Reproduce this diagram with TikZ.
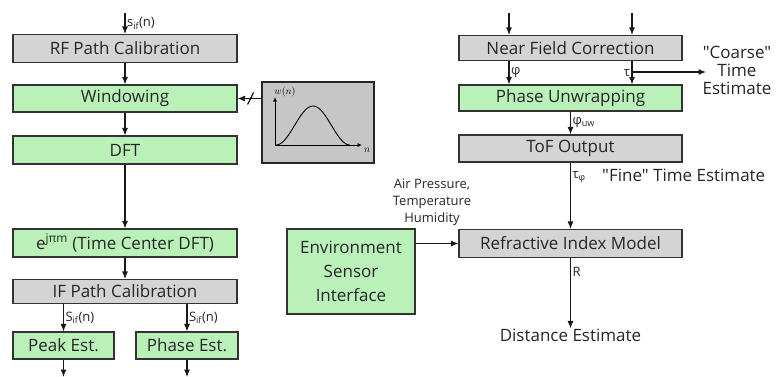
\documentclass[tikz,border=0pt]{standalone}
\usepackage{fontspec}
\setmainfont{Open Sans}[Ligatures=TeXOff]
\usetikzlibrary{arrows.meta,calc}
\definecolor{boxgreen}{HTML}{B9F1B9}
\definecolor{boxgray}{HTML}{D4D4D4}
\definecolor{wingray}{HTML}{C6C6C6}
\begin{document}
\begin{tikzpicture}[x=1pt,y=-1pt,
  box/.style={draw=black!80,line width=1.1pt,minimum width=224pt,minimum height=27pt,inner sep=0pt,
    font=\fontsize{17}{20}\selectfont,text=black!85},
  gbox/.style={box,fill=boxgray},
  grbox/.style={box,fill=boxgreen},
  arr/.style={-{Latex[length=7.5pt,width=6pt]},line width=1.1pt,draw=black!90},
  lbl/.style={font=\fontsize{13}{15}\selectfont,text=black!85,inner sep=1.5pt},
  big/.style={font=\fontsize{17}{19}\selectfont,text=black!85,inner sep=0pt}]
\useasboundingbox (0,0) rectangle (779,376);
% ---------- left column ----------
\node[gbox,minimum height=28pt] (rf) at (125,48.5) {RF Path Calibration};
\node[grbox] (win) at (125,98.5) {Windowing};
\node[grbox,minimum height=28pt] (dft) at (125,150) {DFT};
\node[grbox,minimum height=28pt] (ejm) at (125,243) {e\textsuperscript{jπm} (Time Center DFT)};
\node[gbox,minimum height=24pt] (ifp) at (125,291.5) {IF Path Calibration};
\node[grbox,minimum width=101pt] (peak) at (63.5,345.5) {Peak Est.};
\node[grbox,minimum width=102pt] (phase) at (187,345.5) {Phase Est.};
\coordinate (inl) at (125,13);
\coordinate (outp) at (63.5,377);
\coordinate (outf) at (187,377);
\draw[arr] (inl) -- (rf.north) node[lbl,midway,right] {s\textsubscript{if}(n)};
\draw[arr] (rf) -- (win);
\draw[arr] (win) -- (dft);
\draw[arr] (dft) -- (ejm);
\draw[arr] (ejm) -- (ifp);
\draw[arr] (ifp.south -| peak.north) -- (peak.north) node[lbl,midway,right] {S\textsubscript{if}(n)};
\draw[arr] (ifp.south -| phase.north) -- (phase.north) node[lbl,midway,right] {S\textsubscript{if}(n)};
\draw[arr] (peak) -- (outp);
\draw[arr] (phase) -- (outf);
% ---------- window figure ----------
\node[draw=black!85,line width=1.4pt,fill=wingray,minimum width=112pt,minimum height=81pt,inner sep=0pt] (wfig) at (318,122.5) {};
\coordinate (org) at (275,145);
\coordinate (yax) at (275,97);
\coordinate (xax) at (362,145);
\draw[-{Latex[length=4.5pt,width=4pt]},line width=0.8pt] (org) -- (yax);
\draw[-{Latex[length=4.5pt,width=4pt]},line width=0.8pt] (org) -- (xax);
\draw[line width=0.9pt] plot[domain=0:1,samples=60] ({276+74*\x},{145-39*0.5*(1-cos(360*\x))});
\node[font=\fontsize{10}{11}\selectfont,inner sep=0pt] (wlab) at (285,92) {$w(n)$};
\node[font=\fontsize{10}{11}\selectfont,inner sep=0pt] (nlab) at (367,150) {$n$};
\draw[arr] (wfig.west |- win.east) -- (win.east);
\draw[line width=1.1pt] ($(win.east)+(10,6)$) -- ($(win.east)+(16,-6)$);
% ---------- right column ----------
\node[gbox,minimum width=223pt,minimum height=25pt] (nfc) at (570.5,48) {Near Field Correction};
\node[grbox,minimum width=223pt,minimum height=26pt] (pu) at (570.5,98) {Phase Unwrapping};
\node[gbox,minimum width=223pt,minimum height=27pt] (tof) at (570.5,148.5) {ToF Output};
\node[gbox,minimum width=223pt,minimum height=28pt] (rim) at (570.5,243.5) {Refractive Index Model};
\node[grbox,minimum width=128pt,minimum height=85pt,align=center,font=\fontsize{17}{24}\selectfont] (env) at (351,271.5) {Environment\\Sensor\\Interface};
\node[big] (dist) at (570.5,335) {Distance Estimate};
\coordinate (inphi) at (509,13);
\coordinate (intau) at (632,13);
\draw[arr] (inphi) -- (inphi |- nfc.north);
\draw[arr] (intau) -- (intau |- nfc.north);
\draw[arr] (inphi |- nfc.south) -- (inphi |- pu.north) node[lbl,midway,right] {φ};
\draw[arr] (intau |- nfc.south) -- (intau |- pu.north) node[lbl,midway,left] {τ};
\coordinate (tb) at (632,72);
\coordinate (te) at (706,72);
\draw[arr] (tb) -- (te);
\node[big,align=center,font=\fontsize{17}{18}\selectfont] (coarse) at (737,70) {"Coarse"\\Time\\Estimate};
\draw[arr] (pu) -- (tof) node[lbl,midway,right] {φ\textsubscript{uw}};
\draw[arr] (tof) -- (rim) node[lbl,pos=0.22,right] (tphi) {τ\textsubscript{φ}};
\node[big,anchor=west] (fine) at (602,175) {"Fine" Time Estimate};
\draw[arr] (env.east |- rim.west) -- (rim.west);
\node[font=\fontsize{13}{17}\selectfont,align=center,text=black!85] (air) at (432,202) {Air Pressure,\\Temperature\\Humidity};
\draw[arr] (rim.south) -- (dist.north) node[lbl,pos=0.2,right] {R};
\end{tikzpicture}
\end{document}
